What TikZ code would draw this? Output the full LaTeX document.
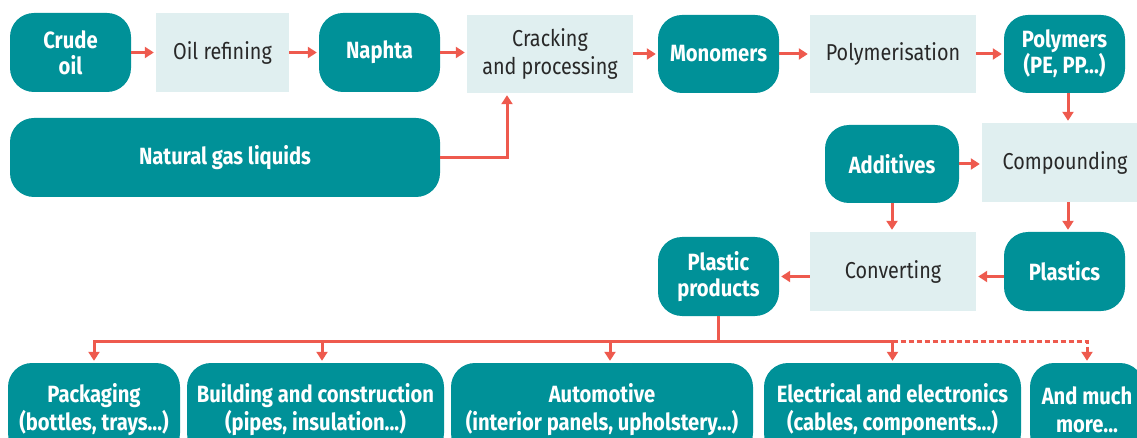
\documentclass[tikz,border=0pt]{standalone}
\usepackage{fontspec}
\setmainfont{Fira Sans}[FakeStretch=0.86]
\usetikzlibrary{arrows.meta}
\definecolor{tealbg}{RGB}{0,145,152}
\definecolor{palebg}{RGB}{224,239,240}
\definecolor{arrc}{RGB}{238,90,78}
\definecolor{txtc}{RGB}{40,40,40}
\tikzset{
  tbox/.style={fill=tealbg, rounded corners=24pt, text=white, font=\bfseries\fontsize{23.5}{26}\selectfont, align=center, inner sep=0pt},
  bbox/.style={tbox, font=\bfseries\fontsize{23.5}{28}\selectfont},
  pbox/.style={fill=palebg, text=txtc, font=\fontsize{23}{28}\selectfont, align=center, inner sep=0pt},
  wire/.style={draw=arrc, line width=3pt},
  conn/.style={wire, -{Triangle[length=9pt,width=11pt]}, shorten >=2pt},
  dconn/.style={conn, dash pattern=on 5pt off 3pt},
}
\begin{document}
\begin{tikzpicture}[x=1pt,y=-1pt]
\useasboundingbox (0,0) rectangle (1137,438);
\clip (0,0) rectangle (1137,438);
% top row
\node[tbox, minimum width=121pt, minimum height=79pt] (crude) at (70.5,52.5) {Crude\\oil};
\node[pbox, minimum width=133pt, minimum height=79pt] (refine) at (222.5,52.5) {Oil refining};
\node[tbox, minimum width=121pt, minimum height=79pt] (naphta) at (379.5,52.5) {Naphta};
\node[pbox, minimum width=166pt, minimum height=78pt] (crack) at (550,54) {Cracking\\and processing};
\node[tbox, minimum width=121pt, minimum height=78pt] (mono) at (718.5,54) {Monomers};
\node[pbox, minimum width=166pt, minimum height=78pt] (polym) at (893,54) {Polymerisation};
\node[tbox, minimum width=121pt, minimum height=78pt] (polymers) at (1064.5,54) {Polymers\\(PE, PP...)};
\node[tbox, minimum width=430pt, minimum height=79pt] (ngl) at (225,157.5) {Natural gas liquids};
% middle
\node[tbox, minimum width=134pt, minimum height=78pt] (add) at (892,164) {Additives};
\node[pbox, minimum width=166pt, minimum height=79pt] (comp) at (1065,162.5) {Compounding};
\node[pbox, minimum width=166pt, minimum height=79pt] (conv) at (893,271.5) {Converting};
\node[tbox, minimum width=121pt, minimum height=79pt] (plast) at (1064.5,271.5) {Plastics};
\node[tbox, minimum width=121pt, minimum height=79pt] (pp) at (718.5,276.5) {Plastic\\products};
% bottom row
\node[bbox, minimum width=172pt, minimum height=94pt] (pack) at (94,410) {Packaging\\(bottles, trays...)};
\node[bbox, minimum width=257pt, minimum height=94pt] (build) at (315.5,410) {Building and construction\\(pipes, insulation...)};
\node[bbox, minimum width=302pt, minimum height=94pt] (auto) at (602,410) {Automotive\\(interior panels, upholstery...)};
\node[bbox, minimum width=257pt, minimum height=94pt] (elec) at (892.5,410) {Electrical and electronics\\(cables, components...)};
\node[bbox, minimum width=114pt, minimum height=94pt] (more) at (1087,410) {And much\\more...};
% connectors top
\draw[conn] (crude.east) -- (refine.west |- crude.east);
\draw[conn] (refine.east) -- (naphta.west |- refine.east);
\draw[conn] (naphta.east) -- (crack.west |- naphta.east);
\draw[conn] (crack.east) -- (mono.west);
\draw[conn] (mono.east) -- (polym.west);
\draw[conn] (polym.east) -- (polymers.west);
\coordinate (crackin) at ([xshift=-43pt]crack.south);
\draw[conn] (ngl.east) -| (crackin);
% middle connectors
\coordinate (pout) at ([xshift=3.5pt]polymers.south);
\draw[conn] (pout) -- (pout |- comp.north);
\draw[conn] (add.east) -- (comp.west |- add.east);
\draw[conn] (add.south) -- (add.south |- conv.north);
\coordinate (cout) at ([xshift=3pt]comp.south);
\draw[conn] (cout) -- (cout |- plast.north);
\draw[conn] (plast.west |- pp.center) -- (conv.east |- pp.center);
\draw[conn] (conv.west |- pp.center) -- (pp.east);
% distribution bus
\coordinate (busy) at (0,341);
\draw[wire] (pp.south) -- (pp.south |- busy);
\draw[conn] (elec.north |- busy) -- (pack.north |- busy) -- (pack.north);
\coordinate (bin) at ([xshift=6.5pt]build.north);
\draw[conn] (bin |- busy) -- (bin);
\coordinate (ain) at ([xshift=8pt]auto.north);
\draw[conn] (ain |- busy) -- (ain);
\draw[conn] (elec.north |- busy) -- (elec.north);
\draw[dconn] (elec.north |- busy) -| (more.north);
\end{tikzpicture}
\end{document}
